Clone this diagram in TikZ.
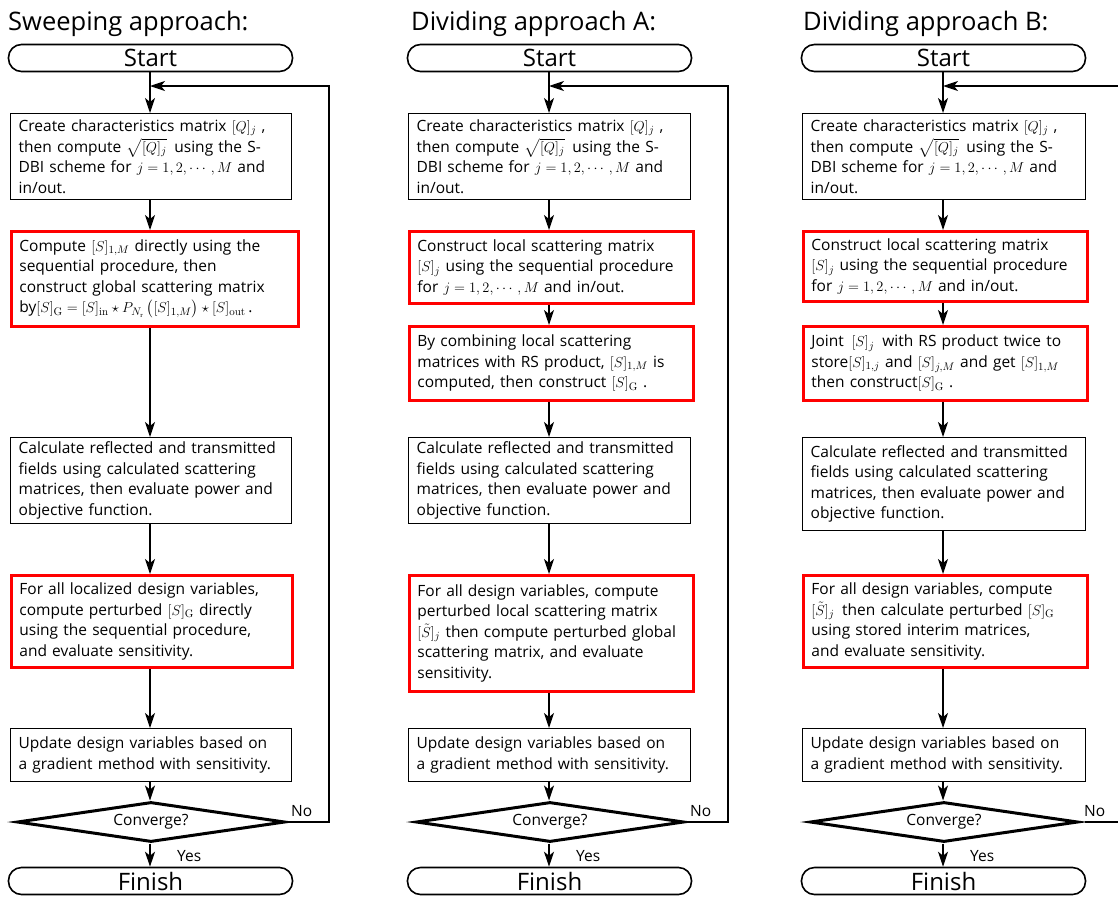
\documentclass[tikz,border=0pt]{standalone}
\usepackage{amsmath,amssymb}
\usepackage[no-math]{fontspec}
\setmainfont{Open Sans}
\usetikzlibrary{shapes.geometric,arrows.meta}
\newcommand{\bodyf}{\fontsize{15.5}{20.5}\selectfont}
\begin{document}
\begin{tikzpicture}[x=1pt,y=-1pt,
  box/.style={draw, line width=1.3pt, align=left, anchor=north west, inner xsep=8pt, inner ysep=0pt, font=\bodyf},
  rbox/.style={box, draw=red, line width=2.8pt},
  term/.style={draw, line width=1.6pt, rounded corners=13pt, minimum width=284pt, minimum height=27pt, inner sep=0pt, font=\fontsize{24}{24}\selectfont},
  dec/.style={draw, line width=3pt, diamond, aspect=6.5, minimum width=268pt, minimum height=40pt, inner sep=0pt, font=\fontsize{15.5}{15.5}\selectfont},
  arr/.style={line width=1.2pt, -{Stealth[length=15pt,width=10pt,inset=4pt]}},
  ln/.style={line width=1.2pt},
  ttl/.style={anchor=base west, inner sep=0pt, font=\fontsize{25.5}{25.5}\selectfont},
  lab/.style={inner sep=0pt, font=\fontsize{15.5}{15.5}\selectfont}
]
\useasboundingbox (0,0) rectangle (1118,897);
\fill[white] (0,0) rectangle (1118,897);

% ---------- Column 1 ----------
\node[ttl] (t1) at (8,30) {Sweeping approach:};
\node[term] (s1) at (150.5,58) {Start};
\node[box, text width=265pt, minimum height=86pt] (a1) at (10,113) {Create characteristics matrix $[Q]_j$ ,\\ then compute $\sqrt{[Q]_j}$\, using the S-\\DBI scheme for $j=1,2,\cdots,M$ and\\ in/out.};
\node[rbox, text width=271pt, minimum height=95pt] (a2) at (10,230) {Compute $[S]_{1,M}$ directly using the\\ sequential procedure, then\\ construct global scattering matrix\\ by{\fontsize{15}{20.5}\selectfont$[S]_{\mathrm{G}} = [S]_{\mathrm{in}} \star P_{N_{\mathrm{r}}}\left([S]_{1,M}\right) \star [S]_{\mathrm{out}}$}\,.};
\node[box, text width=265pt, minimum height=86pt] (a3) at (10,437) {Calculate reflected and transmitted\\ fields using calculated scattering\\ matrices, then evaluate power and\\ objective function.};
\node[rbox, text width=265pt, minimum height=92pt] (a4) at (10,574) {For all localized design variables,\\ compute perturbed $[S]_{\mathrm{G}}$ directly\\ using the sequential procedure,\\ and evaluate sensitivity.};
\node[box, text width=265pt, minimum height=53pt] (a5) at (10,728) {Update design variables based on\\ a gradient method with sensitivity.};
\node[dec] (d1) at (151,822) {Converge?};
\node[term] (f1) at (150.5,881) {Finish};
\coordinate (j1) at (150,86);
\draw[arr] (s1.south -| j1) -- (j1 |- a1.north);
\draw[arr] (j1 |- a1.south) -- (j1 |- a2.north);
\draw[arr] (j1 |- a2.south) -- (j1 |- a3.north);
\draw[arr] (j1 |- a3.south) -- (j1 |- a4.north);
\draw[arr] (j1 |- a4.south) -- (j1 |- a5.north);
\draw[arr] (j1 |- a5.south) -- (j1 |- d1.north);
\draw[arr] (j1 |- d1.south) -- (j1 |- f1.north);
\draw[arr] (d1.east) -- (329,822) |- (j1);
\node[lab, anchor=south west] (n1) at (291,817) {No};
\node[lab, anchor=west] (y1) at (177,856) {Yes};

% ---------- Column 2 ----------
\node[ttl] (t2) at (411,30) {Dividing approach A:};
\node[term] (s2) at (549.5,58) {Start};
\node[box, text width=266pt, minimum height=86pt] (b1) at (408,113) {Create characteristics matrix $[Q]_j$ ,\\ then compute $\sqrt{[Q]_j}$\, using the S-\\DBI scheme for $j=1,2,\cdots,M$ and\\ in/out.};
\node[rbox, text width=268pt, minimum height=72pt] (b2) at (408,230) {Construct local scattering matrix\\ $[S]_j$ using the sequential procedure\\ for $j=1,2,\cdots,M$ and in/out.};
\node[rbox, text width=268pt, minimum height=74pt] (b3) at (408,325) {By combining local scattering\\ matrices with RS product, $[S]_{1,M}$ is\\ computed, then construct $[S]_{\mathrm{G}}$ .};
\node[box, text width=266pt, minimum height=86pt] (b4) at (408,437) {Calculate reflected and transmitted\\ fields using calculated scattering\\ matrices, then evaluate power and\\ objective function.};
\node[rbox, text width=268pt, minimum height=116pt] (b5) at (408,574) {For all design variables, compute\\ perturbed local scattering matrix\\ $[\tilde{S}]_j$ then compute perturbed global\\ scattering matrix, and evaluate\\ sensitivity.};
\node[box, text width=266pt, minimum height=53pt] (b6) at (408,728) {Update design variables based on\\ a gradient method with sensitivity.};
\node[dec] (d2) at (550,822) {Converge?};
\node[term] (f2) at (549.5,881) {Finish};
\coordinate (j2) at (549,86);
\draw[arr] (s2.south -| j2) -- (j2 |- b1.north);
\draw[arr] (j2 |- b1.south) -- (j2 |- b2.north);
\draw[arr] (j2 |- b2.south) -- (j2 |- b3.north);
\draw[arr] (j2 |- b3.south) -- (j2 |- b4.north);
\draw[arr] (j2 |- b4.south) -- (j2 |- b5.north);
\draw[arr] (j2 |- b5.south) -- (j2 |- b6.north);
\draw[arr] (j2 |- b6.south) -- (j2 |- d2.north);
\draw[arr] (j2 |- d2.south) -- (j2 |- f2.north);
\draw[arr] (d2.east) -- (728,822) |- (j2);
\node[lab, anchor=south west] (n2) at (690,817) {No};
\node[lab, anchor=west] (y2) at (576,856) {Yes};

% ---------- Column 3 ----------
\node[ttl] (t3) at (803,30) {Dividing approach B:};
\node[term] (s3) at (943.5,58) {Start};
\node[box, text width=267pt, minimum height=86pt] (c1) at (802,113) {Create characteristics matrix $[Q]_j$ ,\\ then compute $\sqrt{[Q]_j}$\, using the S-\\DBI scheme for $j=1,2,\cdots,M$ and\\ in/out.};
\node[rbox, text width=268pt, minimum height=70pt] (c2) at (802,230) {Construct local scattering matrix\\ $[S]_j$ using the sequential procedure\\ for $j=1,2,\cdots,M$ and in/out.};
\node[rbox, text width=268pt, minimum height=74pt] (c3) at (802,325) {Joint \,$[S]_j$\, with RS product twice to\\ store$[S]_{1,j}$ and $[S]_{j,M}$ and get $[S]_{1,M}$\\ then construct$[S]_{\mathrm{G}}$ .};
\node[box, text width=267pt, minimum height=93pt] (c4) at (802,437) {Calculate reflected and transmitted\\ fields using calculated scattering\\ matrices, then evaluate power and\\ objective function.};
\node[rbox, text width=268pt, minimum height=92pt] (c5) at (802,574) {For all design variables, compute\\ $[\tilde{S}]_j$\, then calculate perturbed $[S]_{\mathrm{G}}$\\ using stored interim matrices,\\ and evaluate sensitivity.};
\node[box, text width=267pt, minimum height=53pt] (c6) at (802,728) {Update design variables based on\\ a gradient method with sensitivity.};
\node[dec] (d3) at (944,822) {Converge?};
\node[term] (f3) at (943.5,881) {Finish};
\coordinate (j3) at (943,86);
\coordinate (e3a) at (1118,822);
\coordinate (e3b) at (1118,86);
\draw[arr] (s3.south -| j3) -- (j3 |- c1.north);
\draw[arr] (j3 |- c1.south) -- (j3 |- c2.north);
\draw[arr] (j3 |- c2.south) -- (j3 |- c3.north);
\draw[arr] (j3 |- c3.south) -- (j3 |- c4.north);
\draw[arr] (j3 |- c4.south) -- (j3 |- c5.north);
\draw[arr] (j3 |- c5.south) -- (j3 |- c6.north);
\draw[arr] (j3 |- c6.south) -- (j3 |- d3.north);
\draw[arr] (j3 |- d3.south) -- (j3 |- f3.north);
\draw[ln] (d3.east) ++(5,0) -- (e3a);
\draw[arr] (e3b) -- (j3);
\node[lab, anchor=south west] (n3) at (1084,817) {No};
\node[lab, anchor=west] (y3) at (970,856) {Yes};
\end{tikzpicture}
\end{document}
